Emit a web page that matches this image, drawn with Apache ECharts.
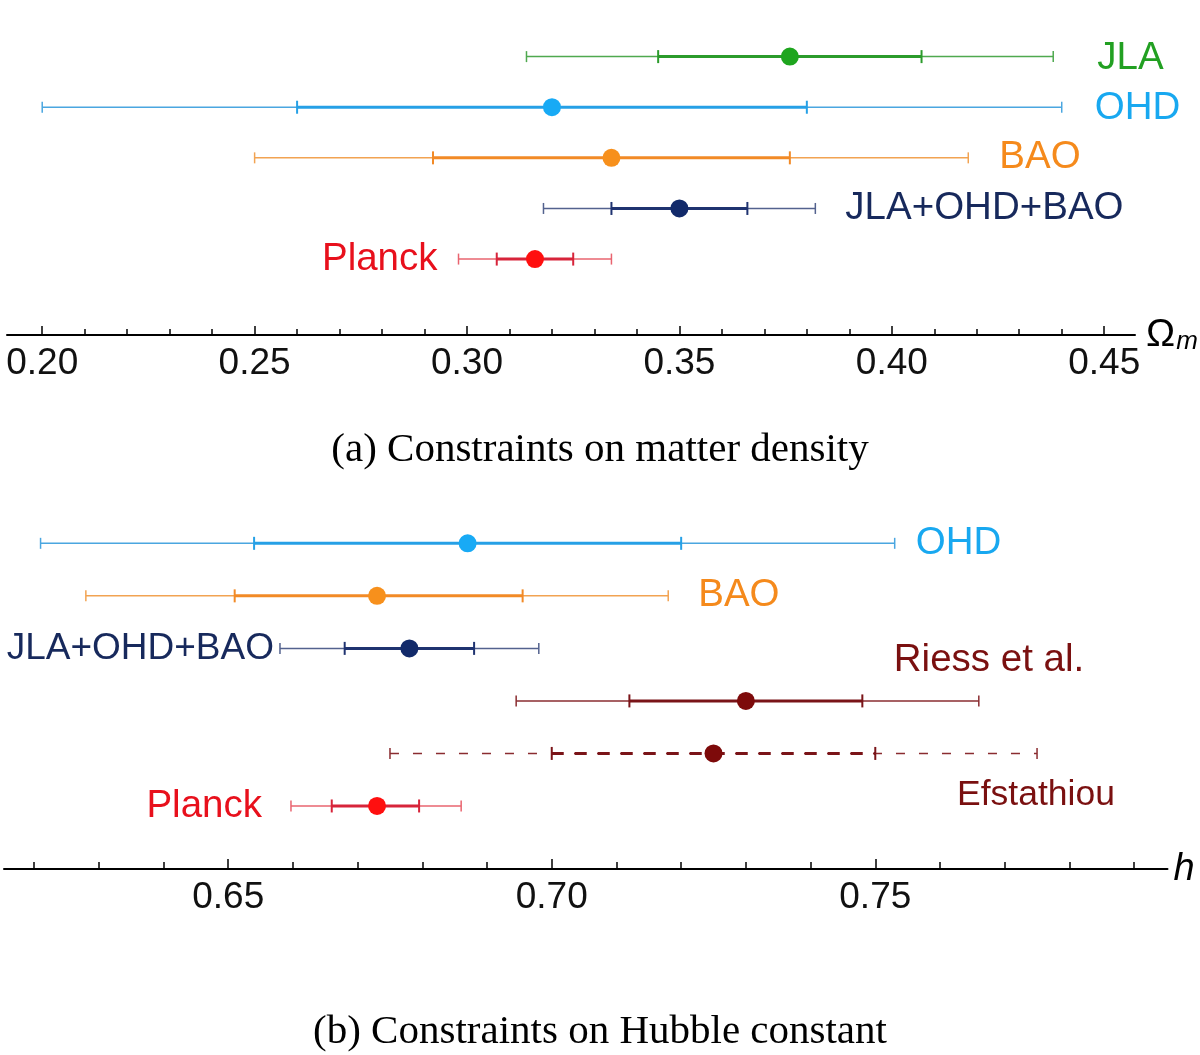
<!DOCTYPE html>
<html>
<head>
<meta charset="utf-8">
<script src="https://cdn.jsdelivr.net/npm/echarts@6/dist/echarts.min.js"></script>
<style>
html,body{margin:0;padding:0;background:#fff;}
#chart{width:1200px;height:1055px;}
</style>
</head>
<body>
<div id="chart"></div>
<script>
// ---------- DATA: panel (a) matter density ----------
const topNames  = ['JLA', 'OHD', 'BAO', 'JLA+OHD+BAO', 'Planck'];
const topCenter = [0.376, 0.320, 0.334, 0.350, 0.316];
const top1Lo    = [0.345, 0.260, 0.292, 0.334, 0.307];
const top1Hi    = [0.407, 0.380, 0.376, 0.366, 0.325];
const top2Lo    = [0.314, 0.200, 0.250, 0.318, 0.298];
const top2Hi    = [0.438, 0.440, 0.418, 0.382, 0.334];
const topMajorTicks = [0.20, 0.25, 0.30, 0.35, 0.40, 0.45];
const topMinorTicks = [0.21, 0.22, 0.23, 0.24, 0.26, 0.27, 0.28, 0.29, 0.31, 0.32, 0.33, 0.34,
                       0.36, 0.37, 0.38, 0.39, 0.41, 0.42, 0.43, 0.44];

// ---------- DATA: panel (b) Hubble constant ----------
const botNames  = ['OHD', 'BAO', 'JLA+OHD+BAO', 'Riess et al.', 'Efstathiou', 'Planck'];
const botCenter = [0.687, 0.673, 0.678, 0.730, 0.725, 0.673];
const bot1Lo    = [0.654, 0.651, 0.668, 0.712, 0.700, 0.666];
const bot1Hi    = [0.720, 0.6955, 0.688, 0.748, 0.750, 0.6795];
const bot2Lo    = [0.621, 0.628, 0.658, 0.6945, 0.675, 0.6597];
const bot2Hi    = [0.753, 0.718, 0.698, 0.766, 0.775, 0.686];
const botMajorTicks = [0.65, 0.70, 0.75];
const botMinorTicks = [0.62, 0.63, 0.64, 0.66, 0.67, 0.68, 0.69, 0.71, 0.72, 0.73, 0.74,
                       0.76, 0.77, 0.78, 0.79];

// ---------- STYLES ----------
const palette = {
  green:  {marker:'#1ea51e', inner:'#2b9b2b', outer:'#4fa94f', label:'#22a022'},
  blue:   {marker:'#18aaf5', inner:'#26a0e6', outer:'#4aa6e0', label:'#18a8f0'},
  orange: {marker:'#f7901c', inner:'#f28a26', outer:'#f2a352', label:'#f58a1c'},
  navy:   {marker:'#122a6a', inner:'#1f3370', outer:'#53628e', label:'#17295c'},
  red:    {marker:'#ff0f0f', inner:'#d7243a', outer:'#e9646f', label:'#e8101c'},
  maroon: {marker:'#7d0a0a', inner:'#7a1418', outer:'#8a2c30', label:'#7a1010'}
};
const topStyle = [
  {c:'green',  side:'right', dx:44, dy:2},
  {c:'blue',   side:'right', dx:33, dy:1},
  {c:'orange', side:'right', dx:31, dy:0},
  {c:'navy',   side:'right', dx:30, dy:0},
  {c:'red',    side:'left',  dx:-21, dy:0}
];
const botStyle = [
  {c:'blue',   side:'right', dx:21, dy:0},
  {c:'orange', side:'right', dx:30, dy:0},
  {c:'navy',   side:'left',  dx:-6, dy:0, fs:37},
  {c:'maroon', side:'rightInner', dx:-85, dy:-41},
  {c:'maroon', side:'rightInner', dx:-80, dy:42, dashed:true, fs:35.5},
  {c:'red',    side:'left',  dx:-29, dy:0}
];

const SANS = "'Liberation Sans', Arial, Helvetica, sans-serif";
const SERIF = "'Liberation Serif', 'Times New Roman', serif";

function buildData(center, lo1, hi1, lo2, hi2) {
  return center.map((c, i) => [i, c, lo1[i], hi1[i], lo2[i], hi2[i]]);
}

function makeRender(names, styles) {
  return function (params, api) {
    const i = params.dataIndex;
    const row = api.value(0);
    const st = styles[i];
    const col = palette[st.c];
    const pC  = api.coord([api.value(1), row]);
    const p1L = api.coord([api.value(2), row]);
    const p1H = api.coord([api.value(3), row]);
    const p2L = api.coord([api.value(4), row]);
    const p2H = api.coord([api.value(5), row]);
    const y = pC[1];
    const outerDash = st.dashed ? [9, 14] : null;
    const innerDash = st.dashed ? [12, 11] : null;
    const children = [];
    children.push({type:'line', shape:{x1:p2L[0], y1:y, x2:p2H[0], y2:y},
      style:{stroke:col.outer, lineWidth:1.5, lineDash:outerDash}});
    children.push({type:'line', shape:{x1:p1L[0], y1:y, x2:p1H[0], y2:y},
      style:{stroke:col.inner, lineWidth:3, lineDash:innerDash}});
    [p2L, p2H].forEach(p => children.push({type:'line',
      shape:{x1:p[0], y1:y-5.5, x2:p[0], y2:y+5.5}, style:{stroke:col.outer, lineWidth:1.5}}));
    [p1L, p1H].forEach(p => children.push({type:'line',
      shape:{x1:p[0], y1:y-6.5, x2:p[0], y2:y+6.5}, style:{stroke:col.inner, lineWidth:2}}));
    children.push({type:'circle', shape:{cx:pC[0], cy:y, r:9}, style:{fill:col.marker}});
    let tx, align;
    if (st.side === 'right') { tx = p2H[0] + st.dx; align = 'left'; }
    else if (st.side === 'left') { tx = p2L[0] + st.dx; align = 'right'; }
    else { tx = p2H[0] + st.dx; align = 'left'; }
    children.push({type:'text', x:tx, y:y + st.dy, style:{
      text:names[i], fill:col.label, font:'normal ' + (st.fs || 38.5) + 'px ' + SANS,
      align:align, verticalAlign:'middle'}});
    return {type:'group', children:children};
  };
}

const axisCommon = {
  type:'value', position:'bottom', splitLine:{show:false}
};

const chart = echarts.init(document.getElementById('chart'), null, {renderer:'canvas'});
const option = {
  backgroundColor:'#ffffff',
  animation:false,
  title:[
    {text:'(a) Constraints on matter density', left:'center', top:430, padding:0,
     textStyle:{fontFamily:SERIF, fontSize:41, fontWeight:'normal', color:'#000'}},
    {text:'(b) Constraints on Hubble constant', left:'center', top:1012, padding:0,
     textStyle:{fontFamily:SERIF, fontSize:41, fontWeight:'normal', color:'#000'}}
  ],
  grid:[
    {left:7, right:65, top:6, height:329, containLabel:false},
    {left:4, right:32.5, top:490.8, height:378.2, containLabel:false}
  ],
  xAxis:[
    Object.assign({}, axisCommon, {gridIndex:0, min:0.19171, max:0.45725,
      name:'{o|Ω}{m|m}', nameLocation:'end', nameGap:11,
      nameTextStyle:{rich:{
        o:{fontFamily:SANS, fontSize:39, color:'#000', lineHeight:40},
        m:{fontFamily:SANS, fontSize:26, fontStyle:'italic', color:'#000', lineHeight:8, verticalAlign:'bottom', padding:[0,0,0,1]}
      }},
      axisLine:{show:true, onZero:false, lineStyle:{color:'#000', width:2}},
      axisTick:{show:true, inside:true, length:9, lineStyle:{color:'#000', width:1.5}, customValues:topMajorTicks},
      axisLabel:{show:true, customValues:topMajorTicks, margin:10, color:'#111', fontFamily:SANS, fontSize:37,
        formatter:v => v.toFixed(2)}
    }),
    Object.assign({}, axisCommon, {gridIndex:0, min:0.19171, max:0.45725,
      axisLine:{show:false, onZero:false},
      axisTick:{show:true, inside:true, length:6, lineStyle:{color:'#000', width:1.5}, customValues:topMinorTicks},
      axisLabel:{show:false}
    }),
    Object.assign({}, axisCommon, {gridIndex:1, min:0.61535, max:0.79516,
      name:'h', nameLocation:'end', nameGap:6,
      nameTextStyle:{fontFamily:SANS, fontSize:38, fontStyle:'italic', color:'#000'},
      axisLine:{show:true, onZero:false, lineStyle:{color:'#000', width:2}},
      axisTick:{show:true, inside:true, length:10, lineStyle:{color:'#000', width:1.5}, customValues:botMajorTicks},
      axisLabel:{show:true, customValues:botMajorTicks, margin:10, color:'#111', fontFamily:SANS, fontSize:37,
        formatter:v => v.toFixed(2)}
    }),
    Object.assign({}, axisCommon, {gridIndex:1, min:0.61535, max:0.79516,
      axisLine:{show:false, onZero:false},
      axisTick:{show:true, inside:true, length:7, lineStyle:{color:'#000', width:1.5}, customValues:botMinorTicks},
      axisLabel:{show:false}
    })
  ],
  yAxis:[
    {type:'value', gridIndex:0, min:-1, max:5.5, inverse:true, show:false},
    {type:'value', gridIndex:1, min:-1, max:6.2, inverse:true, show:false}
  ],
  series:[
    {type:'custom', xAxisIndex:0, yAxisIndex:0, coordinateSystem:'cartesian2d',
     renderItem:makeRender(topNames, topStyle), clip:false,
     encode:{x:[1,2,3,4,5], y:0},
     data:buildData(topCenter, top1Lo, top1Hi, top2Lo, top2Hi)},
    {type:'custom', xAxisIndex:2, yAxisIndex:1, coordinateSystem:'cartesian2d',
     renderItem:makeRender(botNames, botStyle), clip:false,
     encode:{x:[1,2,3,4,5], y:0},
     data:buildData(botCenter, bot1Lo, bot1Hi, bot2Lo, bot2Hi)}
  ]
};
chart.setOption(option);
</script>
</body>
</html>
